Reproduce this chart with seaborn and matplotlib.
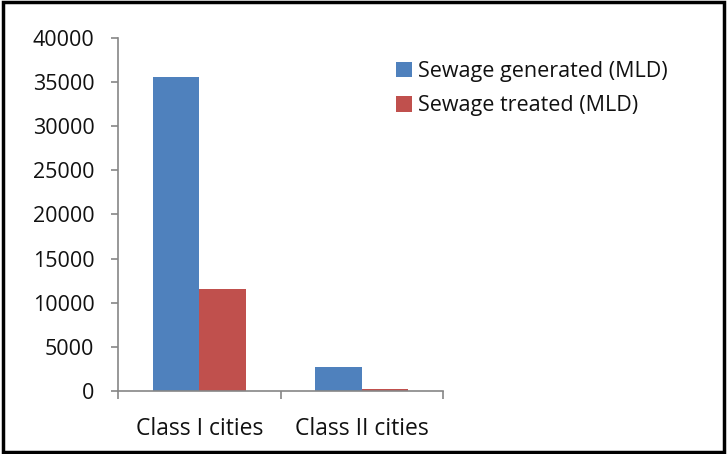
"""Sewage generated vs treated by city class"""
import matplotlib
matplotlib.use("Agg")
import matplotlib.pyplot as plt
import pandas as pd
import seaborn as sns
from matplotlib.patches import Rectangle

categories = ["Class I cities", "Class II cities"]
series = ["Sewage generated (MLD)", "Sewage treated (MLD)"]
generated = [35558, 2696]
treated = [11553, 233]
colors = ["#4F81BD", "#C0504D"]

df = pd.DataFrame({
    "City": categories * 2,
    "Series": [series[0]] * 2 + [series[1]] * 2,
    "MLD": generated + treated,
})

sns.set_style("white")
plt.rcParams["font.family"] = ["Open Sans", "DejaVu Sans"]

fig = plt.figure(figsize=(7.27, 4.54), dpi=100)
ax = fig.add_axes([118 / 727, 1 - 391 / 454, 325 / 727, 353 / 454])

sns.barplot(data=df, x="City", y="MLD", hue="Series", palette=colors,
            width=0.57, saturation=1, linewidth=0, ax=ax, legend=True)

ax.set_ylim(0, 40000)
ax.set_yticks(range(0, 40001, 5000))
ax.set_xlim(-0.5, 1.5)
ax.set_xlabel("")
ax.set_ylabel("")
for s in ["top", "right"]:
    ax.spines[s].set_visible(False)
for s in ["left", "bottom"]:
    ax.spines[s].set_color("#868686")
    ax.spines[s].set_linewidth(1.2)
ax.tick_params(axis="y", left=True, length=5, width=1.2, color="#868686",
               labelsize=15.5, pad=12, labelcolor="#111111")
ax.tick_params(axis="x", bottom=False, labelsize=16.5, pad=15, labelcolor="#111111")
ax.set_xticks([-0.5, 0.5, 1.5], minor=True)
ax.tick_params(axis="x", which="minor", bottom=True, length=6, width=1.2, color="#868686")

handles, labels = ax.get_legend_handles_labels()
ax.legend(handles, labels, loc="upper left", bbox_to_anchor=(396 / 727, 1 - 61 / 454),
          bbox_transform=fig.transFigure, frameon=False, fontsize=15.5,
          borderpad=0, borderaxespad=0, labelcolor="#111111",
          handlelength=0.75, handleheight=0.75, handletextpad=0.25, labelspacing=0.62)

fig.patches.append(Rectangle((0.004, 0.004), 0.992, 0.992, transform=fig.transFigure,
                             fill=False, edgecolor="black", linewidth=2.5))

fig.savefig("out.png", dpi=100)
